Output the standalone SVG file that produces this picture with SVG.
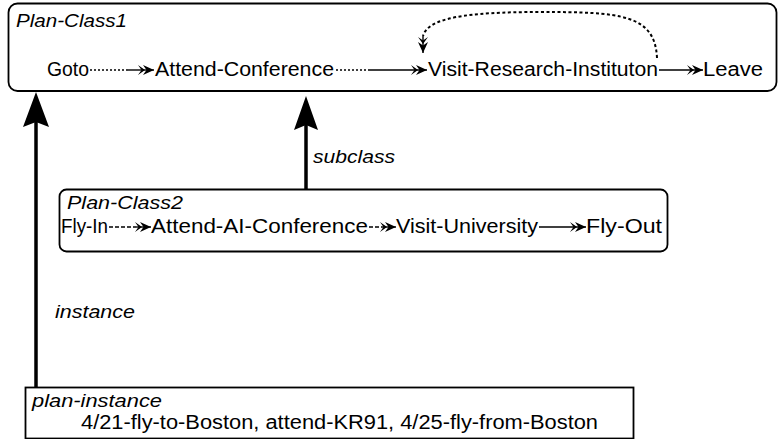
<svg xmlns="http://www.w3.org/2000/svg" width="779" height="439" viewBox="0 0 779 439">
  <style>
    .box { fill: none; stroke: #000; stroke-width: 1.8; }
    .t { font-family: "Liberation Sans", Arial, sans-serif; font-size: 19.5px; fill: #000; }
    .ti { font-family: "Liberation Sans", Arial, sans-serif; font-size: 18px; font-style: italic; fill: #000; }
    .dot { fill: none; stroke: #000; stroke-width: 1.3; stroke-dasharray: 2 2; }
    .cdot { fill: none; stroke: #000; stroke-width: 2; stroke-dasharray: 3 2.5; }
    .dash { fill: none; stroke: #000; stroke-width: 1.3; stroke-dasharray: 4 2; }
    .sol { fill: none; stroke: #000; stroke-width: 1.4; }
    .big { fill: none; stroke: #000; stroke-width: 3.5; }
    .head { fill: #000; }
  </style>
  <defs>
    <marker id="fa" viewBox="0 0 16 11" refX="16" refY="5.5" markerWidth="16" markerHeight="11" markerUnits="userSpaceOnUse" orient="auto">
      <path d="M0,0.5 L7,5.5 L0,10.5 L3.5,5.5 Z M5,0.5 L16,5.5 L5,10.5 L8.5,5.5 Z" fill="#000"/>
    </marker>
  </defs>

  <g id="plan-class1">
    <rect class="box" x="8.5" y="3.5" width="768" height="87.5" rx="9"/>
    <text class="ti" x="16" y="27" textLength="111" lengthAdjust="spacingAndGlyphs">Plan-Class1</text>
    <text class="t" x="47" y="76" textLength="42" lengthAdjust="spacingAndGlyphs">Goto</text>
    <text class="t" x="155" y="76" textLength="179" lengthAdjust="spacingAndGlyphs">Attend-Conference</text>
    <text class="t" x="428" y="76" textLength="230" lengthAdjust="spacingAndGlyphs">Visit-Research-Instituton</text>
    <text class="t" x="703" y="76" textLength="60" lengthAdjust="spacingAndGlyphs">Leave</text>
  </g>

  <g id="plan-class2">
    <rect class="box" x="59.5" y="189.5" width="608" height="62" rx="7"/>
    <text class="ti" x="67" y="209" textLength="116" lengthAdjust="spacingAndGlyphs">Plan-Class2</text>
    <text class="t" x="61" y="233" textLength="47" lengthAdjust="spacingAndGlyphs">Fly-In</text>
    <text class="t" x="151" y="233" textLength="217" lengthAdjust="spacingAndGlyphs">Attend-AI-Conference</text>
    <text class="t" x="396" y="233" textLength="142" lengthAdjust="spacingAndGlyphs">Visit-University</text>
    <text class="t" x="586" y="233" textLength="76" lengthAdjust="spacingAndGlyphs">Fly-Out</text>
  </g>

  <g id="plan-instance">
    <rect class="box" x="25.5" y="387.5" width="608" height="51"/>
    <text class="ti" x="32" y="407" textLength="130" lengthAdjust="spacingAndGlyphs">plan-instance</text>
    <text class="t" x="81" y="429" textLength="517" lengthAdjust="spacingAndGlyphs">4/21-fly-to-Boston, attend-KR91, 4/25-fly-from-Boston</text>
  </g>

  <g id="connectors">
    <!-- row 1 -->
    <path class="dot" d="M90,70 H128"/>
    <path class="sol" d="M128,70 H154" marker-end="url(#fa)"/>
    <path class="dot" d="M336,70 H370"/>
    <path class="sol" d="M370,70 H427" marker-end="url(#fa)"/>
    <path class="sol" d="M659,70 H703" marker-end="url(#fa)"/>
    <path class="cdot" d="M657,58 C655,14 620,12 540,12 C465,12 428,18 423,36"/>
    <path class="sol" d="M423,36 L423,53" marker-end="url(#fa)"/>
    <!-- row 2 -->
    <path class="dash" d="M109,227 H136"/>
    <path class="sol" d="M136,227 H151" marker-end="url(#fa)"/>
    <path class="dash" d="M369,227 H382"/>
    <path class="sol" d="M382,227 H396" marker-end="url(#fa)"/>
    <path class="sol" d="M539,227 H586" marker-end="url(#fa)"/>
    <!-- subclass -->
    <path class="big" d="M306,189 V124"/>
    <path class="head" d="M306,96 L318,130 L306,125 L294,130 Z"/>
    <text class="ti" x="313" y="163" textLength="82" lengthAdjust="spacingAndGlyphs">subclass</text>
    <!-- instance -->
    <path class="big" d="M36,387 V120"/>
    <path class="head" d="M36,92 L49,127 L36,122 L23,127 Z"/>
    <text class="ti" x="55" y="318" textLength="80" lengthAdjust="spacingAndGlyphs">instance</text>
  </g>
</svg>
